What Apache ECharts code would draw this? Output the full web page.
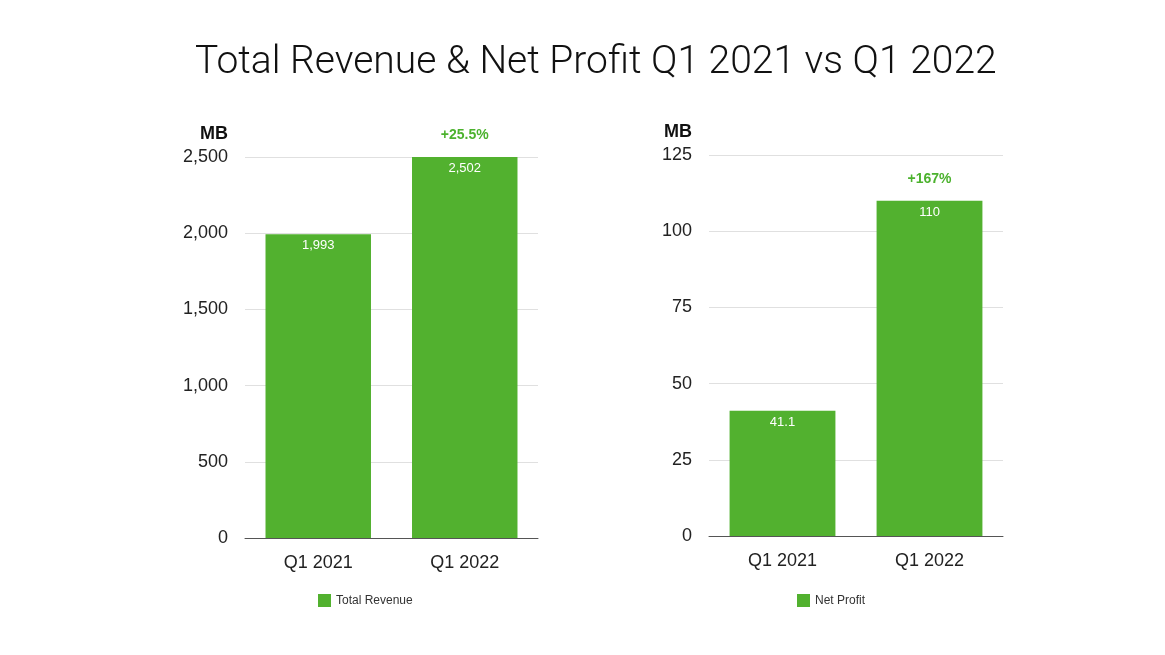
<!DOCTYPE html>
<html><head><meta charset="utf-8">
<script src="https://cdn.jsdelivr.net/npm/echarts@6/dist/echarts.min.js"></script>
<style>html,body{margin:0;padding:0;background:#fff}#c{width:1165px;height:655px}</style>
</head><body><div id="c"></div>
<script>
const categories = ['Q1 2021', 'Q1 2022'];
const revenue = [1993, 2502];
const profit = [41.1, 110];
const revenueGrowth = ['', '+25.5%'];
const profitGrowth = ['', '+167%'];
const revenueTicks = { min: 0, max: 2500, interval: 500 };
const profitTicks = { min: 0, max: 125, interval: 25 };

const GREEN = '#52B12F';
const FONT = '"Liberation Sans", Arial, sans-serif';
const chart = echarts.init(document.getElementById('c'));

function yAxis(idx, ticks) {
  return {
    type: 'value', gridIndex: idx, min: ticks.min, max: ticks.max, interval: ticks.interval,
    name: 'MB', nameLocation: 'end', nameGap: 14,
    nameTextStyle: { fontFamily: FONT, fontWeight: 'bold', fontSize: 18, color: '#111', align: 'right', padding: [0, 17, 0, 0] },
    axisLine: { show: false }, axisTick: { show: false },
    axisLabel: { fontFamily: FONT, fontSize: 18, color: '#222', margin: 17,
      formatter: v => v.toLocaleString('en-US') },
    splitLine: { lineStyle: { color: '#e0e0e0', width: 1 } }
  };
}
function xAxis(idx) {
  return {
    type: 'category', gridIndex: idx, data: categories,
    axisLine: { lineStyle: { color: '#555', width: 1 } }, axisTick: { show: false },
    axisLabel: { fontFamily: FONT, fontSize: 18, color: '#222', margin: 16 }
  };
}
function series(name, idx, data, fmt) {
  return {
    name, type: 'bar', xAxisIndex: idx, yAxisIndex: idx, data, barWidth: '72%',
    itemStyle: { color: GREEN },
    label: { show: true, position: 'insideTop', distance: 5, color: '#fff', fontFamily: FONT, fontSize: 13,
      formatter: p => fmt(p.value) }
  };
}
function growthSeries(idx, data, growth) {
  return {
    type: 'bar', xAxisIndex: idx, yAxisIndex: idx, data, barWidth: '72%', barGap: '-100%',
    itemStyle: { color: 'rgba(0,0,0,0)' }, silent: true,
    label: { show: true, position: 'top', distance: 15, color: '#4CB22E', fontWeight: 'bold', fontFamily: FONT, fontSize: 14,
      formatter: p => growth[p.dataIndex] }
  };
}

chart.setOption({
  animation: false,
  backgroundColor: '#fff',
  title: { text: 'Total Revenue & Net Profit Q1 2021 vs Q1 2022', left: 190, top: 39,
    textStyle: { fontFamily: 'Roboto, sans-serif', fontWeight: 300, fontSize: 39, color: '#111' } },
  grid: [
    { left: 245, right: 627, top: 157, bottom: 117 },
    { left: 709, right: 162, top: 155, bottom: 119 }
  ],
  xAxis: [xAxis(0), xAxis(1)],
  yAxis: [yAxis(0, revenueTicks), yAxis(1, profitTicks)],
  legend: [
    { data: ['Total Revenue'], left: 313, top: 589, itemWidth: 13, itemHeight: 13, itemGap: 8,
      textStyle: { fontFamily: FONT, fontSize: 12, color: '#333' }, icon: 'rect' },
    { data: ['Net Profit'], left: 792, top: 589, itemWidth: 13, itemHeight: 13,
      textStyle: { fontFamily: FONT, fontSize: 12, color: '#333' }, icon: 'rect' }
  ],
  series: [
    series('Total Revenue', 0, revenue, v => v.toLocaleString('en-US')),
    growthSeries(0, revenue, revenueGrowth),
    series('Net Profit', 1, profit, v => String(v)),
    growthSeries(1, profit, profitGrowth)
  ]
});
</script></body></html>
